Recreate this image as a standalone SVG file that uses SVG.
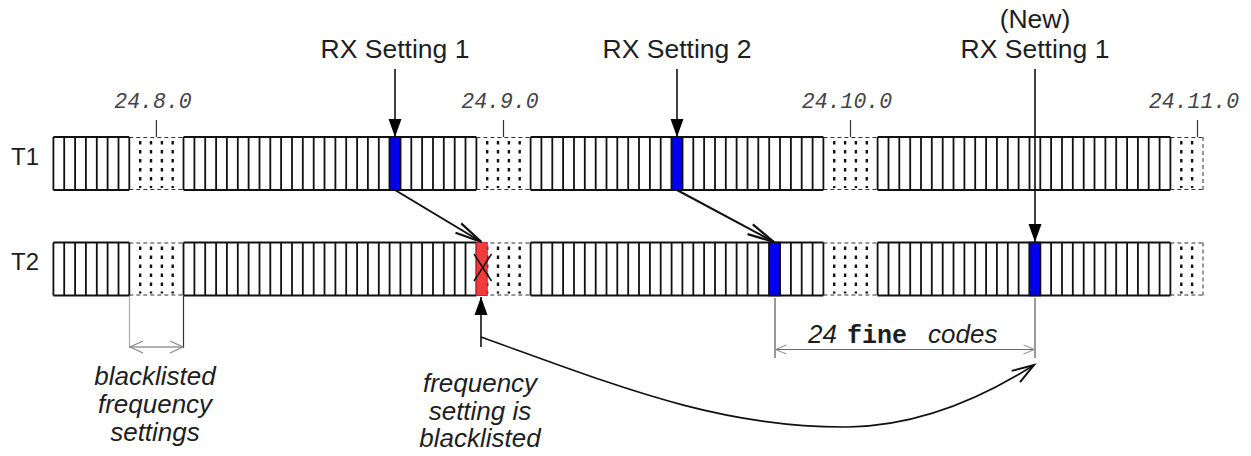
<svg xmlns="http://www.w3.org/2000/svg" width="1251" height="456" viewBox="0 0 1251 456">
<style>
  .lbl{font-family:"Liberation Sans",Arial,sans-serif;font-size:26.5px;fill:#1e1e1e}
  .row{font-family:"Liberation Sans",Arial,sans-serif;font-size:24px;fill:#1e1e1e}
  .num{font-family:"Liberation Mono","DejaVu Sans Mono",monospace;font-style:italic;font-size:21.5px;fill:#444}
  .it{font-family:"Liberation Sans",Arial,sans-serif;font-style:italic;font-size:26px;fill:#1e1e1e}
  .mono{font-family:"Liberation Mono","Courier New",monospace;font-weight:bold;font-size:25px;fill:#1e1e1e}
  .solid{fill:none;stroke:#111;stroke-width:1.8}
  .dash{fill:none;stroke:#333;stroke-width:1;stroke-dasharray:4 3}
  .dots{fill:none;stroke:#111;stroke-width:2.4;stroke-dasharray:3.5 5.5}
  .tick{stroke:#333;stroke-width:1.2}
  .conn{fill:none;stroke:#111;stroke-width:1.6}
  .diag{fill:none;stroke:#111;stroke-width:2}
  .dim{fill:none;stroke:#666;stroke-width:1.2}
</style>
<defs>
  <marker id="tri" markerUnits="userSpaceOnUse" orient="auto" refX="0" refY="0" markerWidth="20" markerHeight="16" overflow="visible">
    <path d="M0,0 L-18,-6.5 L-18,6.5 Z" fill="#000"/>
  </marker>
  <marker id="openv" markerUnits="userSpaceOnUse" orient="auto" refX="0" refY="0" markerWidth="30" markerHeight="14" overflow="visible">
    <path d="M-27,-5.5 L0,0 L-27,5.5" fill="none" stroke="#111" stroke-width="2.2"/>
  </marker>
  <marker id="openc" markerUnits="userSpaceOnUse" orient="auto" refX="0" refY="0" markerWidth="30" markerHeight="20" overflow="visible">
    <path d="M-22,-7 L0,0 L-21,7" fill="none" stroke="#111" stroke-width="2"/>
  </marker>
  <marker id="dimA" markerUnits="userSpaceOnUse" orient="auto-start-reverse" refX="0" refY="0" markerWidth="16" markerHeight="14" overflow="visible">
    <path d="M-13,-6 L0,0 L-13,6" fill="none" stroke="#888" stroke-width="1.2"/>
  </marker>
  <marker id="dimB" markerUnits="userSpaceOnUse" orient="auto-start-reverse" refX="0" refY="0" markerWidth="16" markerHeight="14" overflow="visible">
    <path d="M-11,-4.5 L0,0 L-11,4.5" fill="none" stroke="#999" stroke-width="1.2"/>
  </marker>
  <g id="cells">
    <path class="solid" d="M53.4,0H129.3M183.5,0H476.4M530.6,0H823.4M877.6,0H1170.4M53.4,53H129.3M183.5,53H476.4M530.6,53H823.4M877.6,53H1170.4
      M53.4,0v53M64.2,0v53M75.1,0v53M85.9,0v53M96.8,0v53M107.6,0v53M118.5,0v53M129.3,0v53
      M183.5,0v53M194.4,0v53M205.2,0v53M216.1,0v53M226.9,0v53M237.8,0v53M248.6,0v53M259.5,0v53M270.3,0v53M281.1,0v53M292.0,0v53M302.8,0v53M313.7,0v53M324.5,0v53M335.4,0v53M346.2,0v53M357.1,0v53M367.9,0v53M378.8,0v53M389.6,0v53M400.4,0v53M411.3,0v53M422.1,0v53M433.0,0v53M443.8,0v53M454.7,0v53M465.5,0v53M476.4,0v53
      M530.6,0v53M541.4,0v53M552.3,0v53M563.1,0v53M574.0,0v53M584.8,0v53M595.7,0v53M606.5,0v53M617.3,0v53M628.2,0v53M639.0,0v53M649.9,0v53M660.7,0v53M671.6,0v53M682.4,0v53M693.3,0v53M704.1,0v53M715.0,0v53M725.8,0v53M736.6,0v53M747.5,0v53M758.3,0v53M769.2,0v53M780.0,0v53M790.9,0v53M801.7,0v53M812.6,0v53M823.4,0v53
      M877.6,0v53M888.5,0v53M899.3,0v53M910.2,0v53M921.0,0v53M931.8,0v53M942.7,0v53M953.5,0v53M964.4,0v53M975.2,0v53M986.1,0v53M996.9,0v53M1007.8,0v53M1018.6,0v53M1029.5,0v53M1040.3,0v53M1051.1,0v53M1062.0,0v53M1072.8,0v53M1083.7,0v53M1094.5,0v53M1105.4,0v53M1116.2,0v53M1127.1,0v53M1137.9,0v53M1148.7,0v53M1159.6,0v53M1170.4,0v53"/>
    <path class="dash" d="M129.3,0.5H183.5M476.4,0.5H530.6M823.4,0.5H877.6M1170.4,0.5H1203M129.3,52.5H183.5M476.4,52.5H530.6M823.4,52.5H877.6M1170.4,52.5H1203M1203,0v53"/>
    <path class="dots" d="M140.2,4v47M151.0,4v47M161.9,4v47M172.7,4v47M487.2,4v47M498.0,4v47M508.9,4v47M519.7,4v47M834.2,4v47M845.1,4v47M855.9,4v47M866.8,4v47M1181.3,4v47M1192.1,4v47"/>
  </g>
</defs>

<g id="T1">
  <text class="row" x="11" y="165">T1</text>
  <use href="#cells" transform="translate(0,137)"/>
  <rect x="389.6" y="137" width="10.8" height="53" fill="#0000f0" stroke="#111" stroke-width="1.6"/>
  <rect x="671.6" y="137" width="10.8" height="53" fill="#0000f0" stroke="#111" stroke-width="1.6"/>
</g>

<g id="T2">
  <text class="row" x="11" y="270">T2</text>
  <use href="#cells" transform="translate(0,242.5)"/>
  <rect x="476.4" y="242.5" width="10.8" height="53" fill="#f03c3c" stroke="#c22" stroke-width="1"/>
  <path d="M474,254 L491.5,281 M491.5,254 L474,281" stroke="#111" stroke-width="1.5" fill="none"/>
  <rect x="769.2" y="242.5" width="10.8" height="53" fill="#0000f0" stroke="#111" stroke-width="1.6"/>
  <rect x="1029.5" y="242.5" width="10.8" height="53" fill="#0000f0" stroke="#111" stroke-width="1.6"/>
</g>

<g id="marker-labels">
  <text class="num" x="153" y="108" text-anchor="middle">24.8.0</text>
  <line class="tick" x1="156.4" y1="120" x2="156.4" y2="137"/>
  <text class="num" x="500" y="108" text-anchor="middle">24.9.0</text>
  <line class="tick" x1="503.5" y1="120" x2="503.5" y2="137"/>
  <text class="num" x="847" y="108" text-anchor="middle">24.10.0</text>
  <line class="tick" x1="850.5" y1="120" x2="850.5" y2="137"/>
  <text class="num" x="1194" y="108" text-anchor="middle">24.11.0</text>
  <line class="tick" x1="1197.5" y1="120" x2="1197.5" y2="137"/>
</g>

<g id="rx1">
  <text class="lbl" x="395" y="58" text-anchor="middle">RX Setting 1</text>
</g>
<g id="rx2">
  <text class="lbl" x="677" y="58" text-anchor="middle">RX Setting 2</text>
</g>
<g id="rx1new">
  <text class="lbl" x="1035" y="28" text-anchor="middle">(New)</text>
  <text class="lbl" x="1035" y="58" text-anchor="middle">RX Setting 1</text>
</g>

<g id="note-blacklisted">
  <text class="it" text-anchor="middle"><tspan x="155" y="385">blacklisted</tspan><tspan x="155" y="413">frequency</tspan><tspan x="155" y="441">settings</tspan></text>
</g>
<g id="note-freq">
  <text class="it" text-anchor="middle"><tspan x="480" y="392">frequency</tspan><tspan x="480" y="420">setting is</tspan><tspan x="480" y="447">blacklisted</tspan></text>
</g>
<g id="note-fine">
  <text><tspan class="it" x="808" y="343">24</tspan><tspan class="mono" x="847" y="343">fine</tspan><tspan class="it" x="928" y="343">codes</tspan></text>
</g>

<g id="connectors">
  <line class="conn" x1="395" y1="69" x2="395" y2="137" marker-end="url(#tri)"/>
  <line class="conn" x1="677" y1="69" x2="677" y2="137" marker-end="url(#tri)"/>
  <line class="conn" x1="1035" y1="69" x2="1035" y2="242" marker-end="url(#tri)"/>
  <line class="diag" x1="395" y1="190" x2="481.5" y2="242" marker-end="url(#openv)"/>
  <line class="diag" x1="677" y1="190" x2="774" y2="242" marker-end="url(#openv)"/>
  <line class="conn" x1="481" y1="347" x2="481" y2="297" marker-end="url(#tri)"/>
  <path class="conn" d="M481,337 C620,387 720,428 848,427 C925,426 990,393 1034,365" marker-end="url(#openc)"/>
  <line x1="129.5" y1="296" x2="129.5" y2="348" stroke="#aaa" stroke-width="1.2"/>
  <line x1="183.5" y1="296" x2="183.5" y2="348" stroke="#333" stroke-width="1.2"/>
  <line class="dim" x1="130" y1="347" x2="183" y2="347" marker-start="url(#dimA)" marker-end="url(#dimA)"/>
  <line x1="775" y1="298" x2="775" y2="358" stroke="#555" stroke-width="1.2"/>
  <line x1="1035" y1="298" x2="1035" y2="358" stroke="#555" stroke-width="1.2"/>
  <line class="dim" x1="775.5" y1="349.5" x2="1034.5" y2="349.5" marker-start="url(#dimB)" marker-end="url(#dimB)"/>
</g>
</svg>
